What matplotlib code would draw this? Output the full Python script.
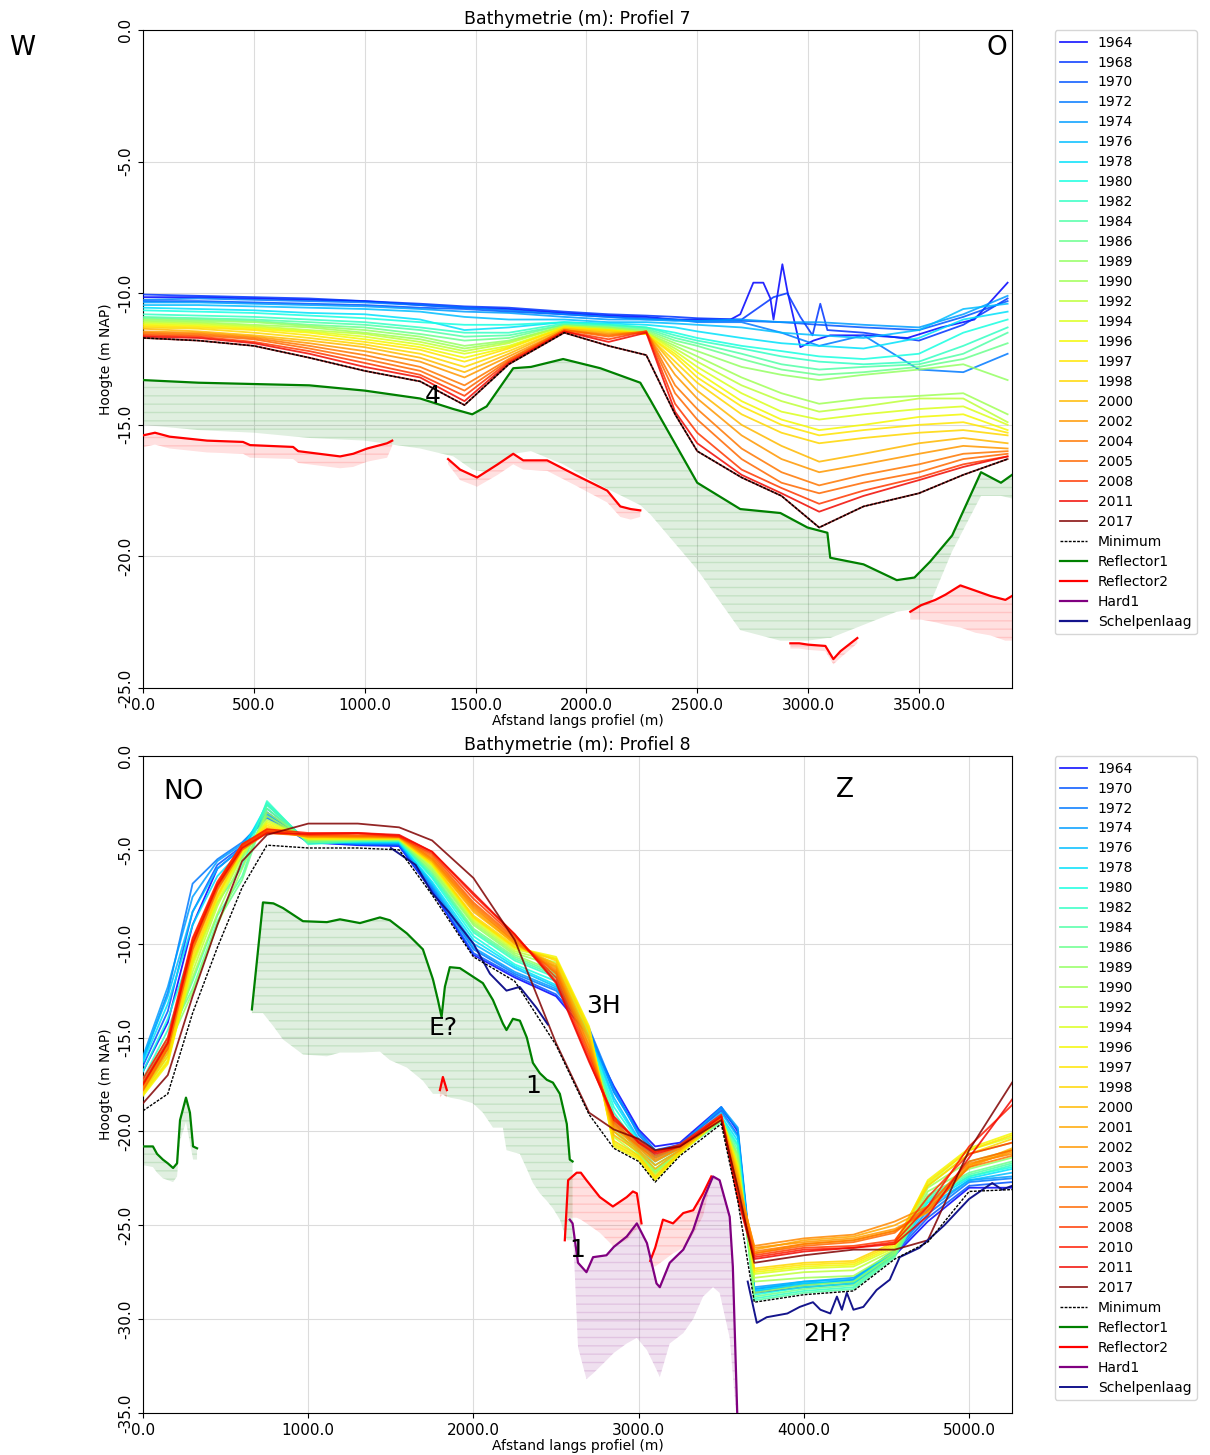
import numpy as np
import matplotlib
matplotlib.use("Agg")
import matplotlib.pyplot as plt

# ============================================================
# Profiel 7 data (afstand in m, hoogte in m NAP)
# ============================================================
X7 = [0, 250, 500, 750, 1000, 1250, 1450, 1650, 1900, 2100, 2270, 2400,
      2500, 2700, 2880, 3050, 3250, 3500, 3700, 3900]

X7_1964 = [0, 250, 500, 750, 1000, 1250, 1450, 1650, 1900, 2100, 2270, 2400,
           2500, 2650, 2694, 2753, 2798, 2830, 2844, 2884, 2906, 2965, 3024,
           3100, 3266, 3448, 3600, 3750, 3900]
Z7_1964 = [-10.15, -10.15, -10.2, -10.25, -10.3, -10.45, -10.55, -10.6, -10.75,
           -10.85, -10.9, -11.0, -11.0, -11.0, -10.8, -9.6, -9.6, -10.2, -11.0,
           -8.9, -9.9, -12.05, -11.8, -11.6, -11.6, -11.7, -11.3, -11.0, -9.6]

X7_1968 = [0, 250, 500, 750, 1000, 1250, 1450, 1650, 1900, 2100, 2270, 2400,
           2500, 2700, 2844, 2906, 2965, 3020, 3055, 3087, 3250, 3500, 3700, 3900]
Z7_1968 = [-10.05, -10.1, -10.15, -10.2, -10.3, -10.4, -10.5, -10.55, -10.7,
           -10.8, -10.85, -10.9, -10.95, -11.0, -10.15, -10.0, -10.9, -11.6,
           -10.4, -11.4, -11.5, -11.8, -11.2, -10.2]

YEARS7 = [1964, 1968, 1970, 1972, 1974, 1976, 1978, 1980, 1982, 1984, 1986,
          1989, 1990, 1992, 1994, 1996, 1997, 1998, 2000, 2002, 2004, 2005,
          2008, 2011, 2017]

Z7 = {
    1970: [-10.3, -10.3, -10.35, -10.4, -10.45, -10.55, -10.6, -10.7, -10.8, -10.9, -10.95, -11.0, -11.05, -11.05, -11.1, -11.2, -11.3, -11.4, -10.9, -10.3],
    1972: [-10.25, -10.2, -10.25, -10.3, -10.35, -10.45, -10.55, -10.65, -10.8, -10.9, -11.0, -11.0, -11.1, -11.1, -11.5, -12.0, -11.6, -12.9, -13.0, -12.3],
    1974: [-10.35, -10.35, -10.4, -10.45, -10.5, -10.6, -10.7, -10.75, -10.9, -11.0, -11.0, -11.05, -11.05, -11.0, -11.1, -11.1, -11.2, -11.3, -10.8, -10.1],
    1976: [-10.45, -10.45, -10.5, -10.55, -10.6, -10.7, -10.9, -11.0, -11.0, -11.1, -11.1, -11.15, -11.2, -11.3, -11.5, -11.6, -11.7, -11.4, -10.6, -10.4],
    1978: [-10.55, -10.6, -10.65, -10.75, -10.8, -11.0, -11.4, -11.3, -11.1, -11.15, -11.2, -11.3, -11.45, -11.7, -11.9, -12.0, -12.1, -11.7, -11.0, -10.7],
    1980: [-10.65, -10.7, -10.75, -10.85, -10.95, -11.1, -11.2, -11.2, -11.1, -11.2, -11.3, -11.5, -11.7, -12.0, -12.2, -12.4, -12.5, -12.3, -11.5, -11.0],
    1982: [-10.8, -10.85, -10.9, -11.0, -11.1, -11.3, -11.5, -11.5, -11.15, -11.2, -11.3, -11.6, -11.8, -12.1, -12.4, -12.6, -12.7, -12.6, -12.0, -11.3],
    1984: [-10.9, -10.95, -11.0, -11.1, -11.2, -11.4, -11.65, -11.6, -11.2, -11.25, -11.35, -11.7, -11.9, -12.3, -12.7, -12.9, -12.8, -12.7, -12.3, -11.5],
    1986: [-10.95, -11.0, -11.05, -11.2, -11.3, -11.55, -11.8, -11.7, -11.2, -11.3, -11.4, -11.8, -12.0, -12.5, -12.9, -13.1, -13.0, -12.8, -12.5, -11.9],
    1989: [-11.0, -11.05, -11.1, -11.25, -11.4, -11.65, -12.0, -11.8, -11.25, -11.3, -11.45, -11.9, -12.2, -12.8, -13.1, -13.3, -13.1, -12.9, -12.7, -13.3],
    1990: [-11.05, -11.1, -11.2, -11.3, -11.5, -11.75, -12.1, -11.85, -11.25, -11.35, -11.5, -12.0, -12.4, -13.2, -13.8, -14.2, -14.0, -13.9, -13.8, -14.6],
    1992: [-11.1, -11.15, -11.25, -11.4, -11.55, -11.85, -12.2, -11.9, -11.25, -11.35, -11.5, -12.1, -12.6, -13.5, -14.1, -14.5, -14.3, -14.0, -14.0, -14.9],
    1994: [-11.15, -11.2, -11.3, -11.45, -11.65, -11.95, -12.3, -12.0, -11.3, -11.4, -11.5, -12.2, -12.8, -13.8, -14.5, -14.8, -14.6, -14.4, -14.3, -15.0],
    1996: [-11.2, -11.25, -11.35, -11.5, -11.75, -12.05, -12.45, -12.05, -11.3, -11.4, -11.55, -12.3, -13.0, -14.1, -14.8, -15.2, -15.0, -14.7, -14.6, -15.2],
    1997: [-11.25, -11.3, -11.4, -11.6, -11.85, -12.15, -12.6, -12.1, -11.3, -11.4, -11.55, -12.4, -13.2, -14.3, -15.0, -15.4, -15.2, -15.0, -14.9, -15.3],
    1998: [-11.3, -11.35, -11.5, -11.7, -11.95, -12.3, -12.8, -12.2, -11.35, -11.45, -11.55, -12.6, -13.4, -14.6, -15.3, -15.7, -15.5, -15.3, -15.2, -15.4],
    2000: [-11.35, -11.45, -11.6, -11.8, -12.05, -12.45, -13.0, -12.3, -11.35, -11.5, -11.5, -12.8, -13.7, -15.0, -15.8, -16.4, -16.1, -15.7, -15.5, -15.7],
    2002: [-11.45, -11.5, -11.65, -11.9, -12.2, -12.6, -13.2, -12.4, -11.4, -11.55, -11.5, -13.1, -14.0, -15.4, -16.3, -16.8, -16.5, -16.1, -15.8, -15.9],
    2004: [-11.5, -11.55, -11.7, -12.0, -12.35, -12.8, -13.5, -12.5, -11.4, -11.6, -11.45, -13.5, -14.4, -15.9, -16.8, -17.3, -16.9, -16.5, -16.1, -16.0],
    2005: [-11.55, -11.6, -11.75, -12.1, -12.5, -12.95, -13.7, -12.55, -11.4, -11.65, -11.45, -13.8, -14.8, -16.3, -17.2, -17.6, -17.2, -16.8, -16.3, -16.1],
    2008: [-11.6, -11.65, -11.85, -12.2, -12.65, -13.1, -13.9, -12.6, -11.45, -11.75, -11.45, -14.2, -15.3, -16.7, -17.4, -18.0, -17.5, -17.0, -16.5, -16.2],
    2011: [-11.65, -11.7, -11.9, -12.3, -12.8, -13.2, -14.1, -12.65, -11.45, -11.85, -11.5, -14.5, -15.7, -16.9, -17.6, -18.3, -17.7, -17.1, -16.6, -16.2],
    2017: [-11.7, -11.8, -12.0, -12.45, -12.95, -13.35, -14.25, -12.7, -11.5, -12.0, -12.35, -14.6, -16.0, -17.0, -17.7, -18.9, -18.1, -17.6, -16.9, -16.3],
}
MIN7 = [-11.7, -11.8, -12.0, -12.45, -12.95, -13.35, -14.25, -12.7, -11.5, -12.0,
        -12.35, -14.6, -16.0, -17.0, -17.7, -18.9, -18.1, -17.6, -16.9, -16.3]

# Reflector1 (profiel 7) + onderkant onzekerheidsband
R1_7_X = [0, 250, 500, 750, 1000, 1250, 1400, 1485, 1550, 1670, 1750, 1895, 2063,
          2243, 2288, 2500, 2694, 2875, 2997, 3087, 3100, 3250, 3400, 3480, 3550,
          3650, 3780, 3870, 3920]
R1_7_Y = [-13.3, -13.4, -13.45, -13.5, -13.7, -14.0, -14.4, -14.6, -14.3, -12.85,
          -12.8, -12.5, -12.85, -13.4, -14.05, -17.2, -18.2, -18.35, -18.9, -19.1,
          -20.05, -20.3, -20.9, -20.8, -20.2, -19.2, -16.8, -17.2, -16.9]
R1_7_LO = [-15.0, -15.2, -15.3, -15.5, -15.6, -15.9, -16.2, -16.7, -16.8, -16.1,
           -16.0, -16.5, -17.3, -18.05, -18.4, -20.5, -22.8, -23.2, -23.2, -23.1,
           -23.1, -22.6, -22.1, -22.0, -21.8, -19.8, -17.7, -17.7, -17.8]

# Reflector2 (profiel 7), vier stukken
R2_7A_X = [0, 54, 120, 289, 451, 483, 677, 700, 889, 948, 1011, 1101, 1124]
R2_7A_Y = [-15.4, -15.3, -15.45, -15.6, -15.65, -15.77, -15.84, -16.0, -16.2, -16.1, -15.9, -15.7, -15.6]
R2_7A_LO = [-15.85, -15.75, -15.9, -16.05, -16.1, -16.25, -16.3, -16.45, -16.65, -16.6, -16.4, -16.25, -15.8]
R2_7B_X = [1376, 1430, 1507, 1600, 1670, 1715, 1823, 1950, 2094, 2153, 2200, 2243]
R2_7B_Y = [-16.3, -16.7, -17.0, -16.5, -16.1, -16.35, -16.35, -16.9, -17.5, -18.1, -18.2, -18.25]
R2_7B_LO = [-16.5, -17.1, -17.35, -16.9, -16.5, -16.7, -16.75, -17.3, -17.95, -18.5, -18.6, -18.5]
R2_7C_X = [2920, 2960, 3000, 3078, 3114, 3146, 3222]
R2_7C_Y = [-23.3, -23.3, -23.35, -23.4, -23.9, -23.6, -23.1]
R2_7C_LO = [-23.5, -23.5, -23.55, -23.6, -24.1, -23.85, -23.3]
R2_7D_X = [3461, 3510, 3574, 3620, 3687, 3755, 3822, 3890, 3920]
R2_7D_Y = [-22.1, -21.85, -21.65, -21.45, -21.1, -21.3, -21.5, -21.65, -21.5]
R2_7D_LO = [-22.4, -22.4, -22.5, -22.6, -22.7, -22.9, -23.0, -23.2, -23.2]

# ============================================================
# Profiel 8 data
# ============================================================
X8 = [0, 150, 300, 450, 600, 750, 1000, 1300, 1550, 1750, 2000, 2250, 2500, 2700,
      2850, 3000, 3100, 3250, 3500, 3600, 3700, 4000, 4300, 4550, 4750, 5000, 5260]

YEARS8 = [1964, 1970, 1972, 1974, 1976, 1978, 1980, 1982, 1984, 1986, 1989, 1990,
          1992, 1994, 1996, 1997, 1998, 2000, 2001, 2002, 2003, 2004, 2005, 2008,
          2010, 2011, 2017]

Z8 = {
    1964: [-16.8, -14.2, -9.0, -6.0, -4.9, -3.0, -4.6, -4.75, -4.8, -7.2, -10.6, -11.8, -12.8, -14.9, -17.6, -19.9, -20.8, -20.6, -18.7, -20.0, -28.6, -28.3, -28.1, -26.6, -24.8, -23.0, -23.0],
    1970: [-16.5, -13.6, -8.3, -5.8, -4.8, -3.2, -4.6, -4.7, -4.75, -7.1, -10.5, -11.7, -12.7, -14.6, -17.9, -20.0, -21.0, -20.7, -18.9, -20.2, -28.4, -28.1, -28.0, -26.5, -24.6, -22.9, -22.7],
    1972: [-16.2, -12.6, -6.8, -5.5, -4.6, -3.3, -4.5, -4.7, -4.7, -7.0, -10.3, -11.6, -12.5, -14.5, -17.7, -20.2, -21.1, -20.7, -18.8, -19.9, -28.5, -28.2, -27.9, -26.4, -24.4, -22.7, -22.5],
    1974: [-16.0, -12.3, -7.5, -5.6, -4.7, -3.1, -4.5, -4.65, -4.65, -6.9, -10.2, -11.5, -12.4, -14.7, -17.9, -20.1, -21.0, -20.8, -18.7, -19.8, -28.3, -28.0, -27.8, -26.4, -24.2, -22.6, -22.4],
    1976: [-16.1, -12.8, -8.3, -6.0, -4.9, -2.8, -4.6, -4.6, -4.6, -6.8, -10.0, -11.3, -12.3, -14.8, -18.2, -20.4, -21.3, -20.9, -19.0, -20.3, -28.4, -28.0, -27.9, -26.3, -24.0, -22.6, -22.2],
    1978: [-16.3, -13.2, -9.0, -6.4, -5.0, -2.6, -4.6, -4.6, -4.6, -6.7, -9.8, -11.2, -12.2, -14.9, -18.4, -20.5, -21.4, -20.9, -19.2, -20.5, -28.5, -28.1, -28.0, -26.4, -23.8, -22.5, -22.0],
    1980: [-16.8, -14.0, -10.2, -7.0, -5.4, -2.5, -4.6, -4.55, -4.55, -6.5, -9.6, -11.1, -12.0, -15.0, -18.7, -20.6, -21.6, -20.9, -19.3, -20.7, -28.7, -28.3, -28.1, -26.5, -23.7, -22.4, -21.9],
    1982: [-17.2, -14.6, -11.0, -7.8, -5.9, -2.4, -4.7, -4.55, -4.5, -6.4, -9.4, -10.9, -11.8, -15.0, -19.0, -20.8, -21.8, -21.0, -19.4, -20.8, -28.9, -28.5, -28.3, -26.6, -23.6, -22.4, -21.8],
    1984: [-17.5, -15.2, -12.0, -8.5, -6.4, -2.6, -4.6, -4.5, -4.5, -6.3, -9.3, -10.8, -11.7, -15.1, -19.3, -21.0, -22.0, -21.0, -19.4, -21.0, -29.0, -28.6, -28.4, -26.7, -23.5, -22.3, -21.7],
    1986: [-17.3, -15.0, -12.4, -8.8, -6.6, -2.8, -4.6, -4.5, -4.5, -6.2, -9.2, -10.7, -11.6, -15.0, -19.5, -21.1, -22.1, -21.1, -19.5, -21.2, -28.8, -28.4, -28.2, -26.6, -23.4, -22.2, -21.6],
    1989: [-17.6, -15.5, -12.6, -9.0, -6.0, -3.0, -4.5, -4.45, -4.45, -6.1, -9.0, -10.6, -11.5, -14.9, -19.8, -21.2, -22.2, -21.1, -19.4, -21.3, -28.6, -28.2, -28.0, -26.5, -23.2, -22.0, -21.4],
    1990: [-17.8, -15.8, -11.8, -8.4, -5.5, -3.2, -4.5, -4.45, -4.45, -6.0, -8.9, -10.5, -11.2, -14.8, -20.0, -21.2, -22.2, -21.1, -19.3, -21.5, -28.0, -27.8, -27.7, -26.4, -23.0, -21.6, -21.0],
    1992: [-17.9, -16.0, -11.5, -8.0, -5.3, -3.4, -4.4, -4.4, -4.4, -5.9, -8.8, -10.4, -11.0, -14.7, -20.3, -21.3, -22.3, -21.1, -19.3, -21.7, -27.8, -27.5, -27.4, -26.3, -22.9, -21.2, -20.6],
    1994: [-18.0, -16.2, -11.2, -7.8, -5.2, -3.5, -4.4, -4.4, -4.4, -5.8, -8.7, -10.3, -10.8, -14.6, -20.6, -21.4, -22.5, -21.2, -19.3, -21.8, -27.6, -27.3, -27.2, -26.2, -22.8, -21.0, -20.3],
    1996: [-18.1, -16.4, -11.0, -7.6, -5.1, -3.6, -4.4, -4.4, -4.4, -5.8, -8.6, -10.2, -10.7, -14.4, -20.8, -21.5, -22.6, -21.2, -19.2, -21.9, -27.5, -27.2, -27.1, -26.1, -22.6, -20.9, -20.1],
    1997: [-18.0, -16.3, -10.8, -7.5, -5.0, -3.7, -4.4, -4.4, -4.4, -5.7, -8.6, -10.2, -10.8, -14.5, -20.7, -21.4, -22.5, -21.1, -19.2, -22.0, -27.4, -27.1, -27.0, -26.0, -22.7, -21.0, -20.2],
    1998: [-17.9, -16.0, -10.6, -7.4, -5.0, -3.8, -4.35, -4.35, -4.4, -5.7, -8.5, -10.1, -10.9, -14.7, -20.5, -21.3, -22.4, -21.1, -19.3, -22.1, -27.3, -27.0, -26.9, -25.9, -22.9, -21.2, -20.4],
    2000: [-17.8, -15.8, -10.4, -7.2, -4.9, -3.9, -4.3, -4.35, -4.35, -5.6, -8.3, -10.0, -11.1, -15.0, -20.2, -21.1, -22.0, -21.0, -19.3, -22.3, -26.5, -26.0, -25.8, -25.3, -24.3, -21.8, -20.9],
    2001: [-17.7, -15.6, -10.2, -7.0, -4.8, -3.9, -4.3, -4.3, -4.35, -5.6, -8.2, -10.0, -11.2, -15.2, -20.0, -21.0, -21.8, -21.0, -19.2, -22.5, -26.3, -25.8, -25.6, -25.0, -24.1, -21.9, -21.0],
    2002: [-17.6, -15.4, -10.0, -6.9, -4.8, -4.0, -4.3, -4.3, -4.3, -5.5, -8.1, -9.9, -11.3, -15.4, -19.8, -20.9, -21.6, -20.9, -19.3, -22.6, -26.2, -25.9, -25.7, -25.2, -24.3, -21.8, -21.1],
    2003: [-17.5, -15.3, -9.9, -6.8, -4.7, -4.0, -4.25, -4.3, -4.3, -5.5, -8.0, -9.9, -11.4, -15.5, -19.7, -20.8, -21.5, -20.9, -19.3, -22.8, -26.1, -25.7, -25.5, -24.8, -24.0, -21.7, -21.2],
    2004: [-17.6, -15.5, -10.1, -7.0, -4.9, -4.1, -4.25, -4.25, -4.3, -5.4, -7.9, -9.8, -11.5, -15.7, -19.6, -20.8, -21.4, -20.8, -19.3, -22.9, -26.4, -26.0, -25.8, -25.3, -24.2, -21.9, -21.3],
    2005: [-17.8, -15.6, -10.3, -7.1, -5.0, -4.1, -4.2, -4.25, -4.3, -5.3, -7.8, -9.7, -11.6, -15.8, -19.5, -20.7, -21.3, -20.8, -19.2, -23.1, -26.5, -26.1, -25.9, -25.4, -24.0, -21.6, -21.0],
    2008: [-17.4, -15.2, -9.8, -6.8, -4.8, -4.0, -4.2, -4.15, -4.3, -5.2, -7.6, -9.6, -11.8, -16.0, -19.3, -20.6, -21.1, -20.8, -19.2, -23.4, -26.6, -26.2, -26.1, -25.8, -23.5, -21.2, -20.6],
    2010: [-17.2, -15.0, -9.7, -6.7, -4.7, -3.9, -4.1, -4.1, -4.25, -5.1, -7.4, -9.5, -12.0, -16.2, -19.4, -20.5, -21.1, -20.7, -19.1, -23.5, -26.7, -26.3, -26.2, -25.9, -24.0, -20.8, -18.6],
    2011: [-17.5, -15.3, -10.0, -6.9, -4.9, -4.1, -4.15, -4.1, -4.2, -5.1, -7.3, -9.5, -12.1, -16.3, -19.2, -20.6, -21.2, -20.8, -19.2, -23.6, -26.8, -26.4, -26.2, -26.0, -24.5, -21.4, -18.3],
    2017: [-18.5, -17.0, -12.8, -9.0, -5.6, -4.2, -3.6, -3.6, -3.8, -4.5, -6.5, -9.8, -15.3, -19.0, -19.9, -20.4, -21.0, -20.8, -19.4, -23.0, -27.0, -26.6, -26.3, -26.3, -25.8, -21.0, -17.4],
}
MIN8 = [-18.9, -18.0, -13.7, -10.2, -7.0, -4.75, -4.9, -4.9, -5.0, -7.4, -10.7, -12.0,
        -15.4, -19.1, -20.9, -21.6, -22.7, -21.3, -19.6, -23.7, -29.1, -28.7, -28.5,
        -26.8, -25.9, -23.2, -23.1]

# Schelpenlaag (profiel 8), twee stukken
SCH8A_X = [1500, 1650, 1750, 1850, 2000, 2100, 2200, 2280, 2380, 2450]
SCH8A_Y = [-4.9, -5.8, -7.3, -8.3, -10.0, -11.6, -12.5, -12.3, -13.4, -14.3]
SCH8B_X = [3660, 3715, 3775, 3900, 3975, 4055, 4100, 4160, 4200, 4230, 4260, 4300,
           4360, 4440, 4520, 4580, 4700, 4850, 5000, 5140, 5200, 5260]
SCH8B_Y = [-28.0, -30.2, -29.9, -29.7, -29.35, -29.1, -29.5, -29.7, -28.8, -29.5,
           -28.6, -29.5, -29.35, -28.45, -27.9, -26.7, -26.2, -25.0, -23.6, -22.75,
           -23.1, -22.9]

# Reflector1 (profiel 8)
R1_8A_X = [0, 60, 85, 120, 150, 182, 206, 224, 260, 284, 303, 327]
R1_8A_Y = [-20.8, -20.8, -21.2, -21.5, -21.7, -21.95, -21.7, -19.4, -18.2, -19.0, -20.8, -20.9]
R1_8A_LO = [-21.8, -21.9, -22.2, -22.5, -22.6, -22.7, -22.4, -20.5, -19.5, -20.6, -21.5, -21.5]
R1_8B_X = [659, 726, 789, 847, 968, 1113, 1192, 1313, 1434, 1494, 1597, 1694, 1755,
           1785, 1807, 1827, 1857, 1918, 1996, 2057, 2118, 2178, 2200, 2239, 2281,
           2323, 2360, 2402, 2444, 2481, 2523, 2565, 2583, 2600]
R1_8B_Y = [-13.5, -7.8, -7.85, -8.1, -8.8, -8.85, -8.7, -8.9, -8.6, -8.75, -9.45,
           -10.3, -11.9, -13.0, -13.9, -12.3, -11.25, -11.3, -11.75, -12.1, -13.0,
           -14.25, -14.6, -14.0, -14.1, -15.0, -16.35, -16.9, -17.25, -17.4, -18.0,
           -19.6, -21.5, -21.6]
R1_8B_LO = [-13.7, -13.7, -14.4, -15.1, -15.9, -16.0, -15.8, -15.8, -15.75, -16.2,
            -16.6, -17.3, -18.0, -18.0, -18.0, -18.1, -18.2, -18.3, -18.5, -19.0,
            -19.8, -19.8, -21.0, -21.1, -21.2, -22.0, -22.75, -23.3, -23.7, -24.1,
            -24.7, -25.8, -25.8, -25.8]

# Reflector2 (profiel 8)
R2_8A_X = [1797, 1815, 1839]
R2_8A_Y = [-17.8, -17.1, -17.8]
R2_8A_LO = [-18.2, -18.0, -18.2]
R2_8B_X = [2553, 2573, 2625, 2650, 2684, 2765, 2844, 2928, 2965, 2989, 3017]
R2_8B_Y = [-25.8, -22.6, -22.2, -22.2, -22.6, -23.5, -24.0, -23.5, -23.2, -23.3, -24.9]
R2_8B_LO = [-25.8, -24.6, -24.6, -24.7, -24.9, -25.4, -26.1, -25.8, -25.4, -25.2, -25.0]
R2_8C_X = [3070, 3100, 3147, 3208, 3270, 3330, 3390, 3440]
R2_8C_Y = [-26.9, -26.2, -24.7, -24.9, -24.35, -24.2, -23.3, -22.4]
R2_8C_LO = [-27.2, -27.2, -26.9, -26.5, -26.2, -25.5, -24.5, -22.6]

# Hard1 (profiel 8)
H1_8_X = [2583, 2600, 2633, 2684, 2724, 2805, 2850, 2928, 2989, 3050, 3108, 3128,
          3188, 3270, 3330, 3390, 3450, 3490, 3551, 3570, 3600]
H1_8_Y = [-24.7, -24.9, -27.0, -27.5, -26.7, -26.6, -26.15, -25.6, -24.9, -25.95,
          -28.1, -28.3, -27.0, -26.3, -25.25, -23.65, -22.4, -22.6, -24.55, -27.2, -36.0]
H1_8_LO = [-24.7, -24.9, -31.5, -33.2, -32.9, -32.2, -31.8, -31.3, -31.0, -31.65,
           -32.7, -33.1, -31.3, -30.75, -30.0, -28.8, -28.3, -28.6, -31.0, -33.0, -36.0]


# ============================================================
# Helpers
# ============================================================
def year_color(year):
    return plt.cm.jet(0.11 + 0.89 * (year - 1964) / (2017 - 1964))


def band(ax, x, y, lo, color):
    ax.fill_between(x, y, lo, facecolor=color, edgecolor=color, alpha=0.12,
                    hatch='--', linewidth=0, zorder=1)


def style_axes(ax, title, xlim, ylim, xticks, yticks):
    ax.set_title(title, fontsize=12.5, pad=4)
    ax.set_xlabel("Afstand langs profiel (m)", fontsize=10, labelpad=1)
    ax.set_ylabel("Hoogte (m NAP)", fontsize=10)
    ax.set_xlim(xlim)
    ax.set_ylim(ylim)
    ax.set_xticks(xticks)
    ax.set_yticks(yticks)
    ax.set_xticklabels([f"{v:.1f}" for v in xticks], fontsize=11)
    ax.set_yticklabels([f"{v:.1f}" for v in yticks], fontsize=11,
                       rotation=90, va='center')
    ax.grid(True, color='#dcdcdc', linewidth=0.8)
    ax.set_axisbelow(True)
    ax.legend(loc='upper left', bbox_to_anchor=(1.049, 1.0), borderaxespad=0,
              fontsize=10, labelspacing=0.43, handlelength=1.9)


fig = plt.figure(figsize=(12.1, 14.55), dpi=100)
ax1 = fig.add_axes([0.1182, 0.5271, 0.7182, 0.4523])
ax2 = fig.add_axes([0.1182, 0.0289, 0.7182, 0.4515])

LW = 1.3
SCH_COLOR = '#14148c'

# ------------------------------------------------------------
# Profiel 7
# ------------------------------------------------------------
for yr in YEARS7:
    if yr == 1964:
        xs, zs = X7_1964, Z7_1964
    elif yr == 1968:
        xs, zs = X7_1968, Z7_1968
    else:
        xs, zs = X7, Z7[yr]
    ax1.plot(xs, zs, color=year_color(yr), lw=LW, alpha=0.85, label=str(yr), zorder=3)

ax1.plot(X7, MIN7, color='black', lw=1.0, linestyle=(0, (2, 1)), label='Minimum', zorder=4)

band(ax1, R1_7_X, R1_7_Y, R1_7_LO, 'green')
ax1.plot(R1_7_X, R1_7_Y, color='green', lw=1.6, label='Reflector1', zorder=3)

first = True
for xs, ys, lo in [(R2_7A_X, R2_7A_Y, R2_7A_LO), (R2_7B_X, R2_7B_Y, R2_7B_LO),
                   (R2_7C_X, R2_7C_Y, R2_7C_LO), (R2_7D_X, R2_7D_Y, R2_7D_LO)]:
    band(ax1, xs, ys, lo, 'red')
    ax1.plot(xs, ys, color='red', lw=1.6, label='Reflector2' if first else None, zorder=3)
    first = False

ax1.plot([], [], color='purple', lw=1.6, label='Hard1')
ax1.plot([], [], color=SCH_COLOR, lw=1.6, label='Schelpenlaag')

ax1.text(1309, -13.9, "4", fontsize=18, ha='center', va='center', zorder=6)
ax1.text(3850, -0.68, "O", fontsize=19, ha='center', va='center')
fig.text(22 / 1210, 1 - 48 / 1455, "W", fontsize=19, ha='center', va='center')

style_axes(ax1, "Bathymetrie (m): Profiel 7", (0, 3920), (-25, 0),
           [0, 500, 1000, 1500, 2000, 2500, 3000, 3500],
           [0, -5, -10, -15, -20, -25])

# ------------------------------------------------------------
# Profiel 8
# ------------------------------------------------------------
for yr in YEARS8:
    ax2.plot(X8, Z8[yr], color=year_color(yr), lw=LW, alpha=0.85, label=str(yr), zorder=3)

ax2.plot(X8, MIN8, color='black', lw=1.0, linestyle=(0, (2, 1)), label='Minimum', zorder=4)

first = True
for xs, ys, lo in [(R1_8A_X, R1_8A_Y, R1_8A_LO), (R1_8B_X, R1_8B_Y, R1_8B_LO)]:
    band(ax2, xs, ys, lo, 'green')
    ax2.plot(xs, ys, color='green', lw=1.6, label='Reflector1' if first else None, zorder=3)
    first = False

first = True
for xs, ys, lo in [(R2_8A_X, R2_8A_Y, R2_8A_LO), (R2_8B_X, R2_8B_Y, R2_8B_LO),
                   (R2_8C_X, R2_8C_Y, R2_8C_LO)]:
    band(ax2, xs, ys, lo, 'red')
    ax2.plot(xs, ys, color='red', lw=1.6, label='Reflector2' if first else None, zorder=3)
    first = False

band(ax2, H1_8_X, H1_8_Y, H1_8_LO, 'purple')
ax2.plot(H1_8_X, H1_8_Y, color='purple', lw=1.6, label='Hard1', zorder=3)

ax2.plot(SCH8A_X, SCH8A_Y, color=SCH_COLOR, lw=1.4, label='Schelpenlaag', zorder=3)
ax2.plot(SCH8B_X, SCH8B_Y, color=SCH_COLOR, lw=1.4, zorder=3)

ax2.text(248, -1.92, "NO", fontsize=19, ha='center', va='center')
ax2.text(4247, -1.81, "Z", fontsize=19, ha='center', va='center')
ax2.text(1815, -14.5, "E?", fontsize=18, ha='center', va='center', zorder=6)
ax2.text(2360, -17.6, "1", fontsize=18, ha='center', va='center', zorder=6)
ax2.text(2789, -13.3, "3H", fontsize=18, ha='center', va='center', zorder=6)
ax2.text(2626, -26.3, "1", fontsize=18, ha='center', va='center', zorder=6)
ax2.text(4144, -30.8, "2H?", fontsize=18, ha='center', va='center', zorder=6)

style_axes(ax2, "Bathymetrie (m): Profiel 8", (0, 5260), (-35, 0),
           [0, 1000, 2000, 3000, 4000, 5000],
           [0, -5, -10, -15, -20, -25, -30, -35])

fig.savefig("out.png", dpi=100)
plt.close(fig)
